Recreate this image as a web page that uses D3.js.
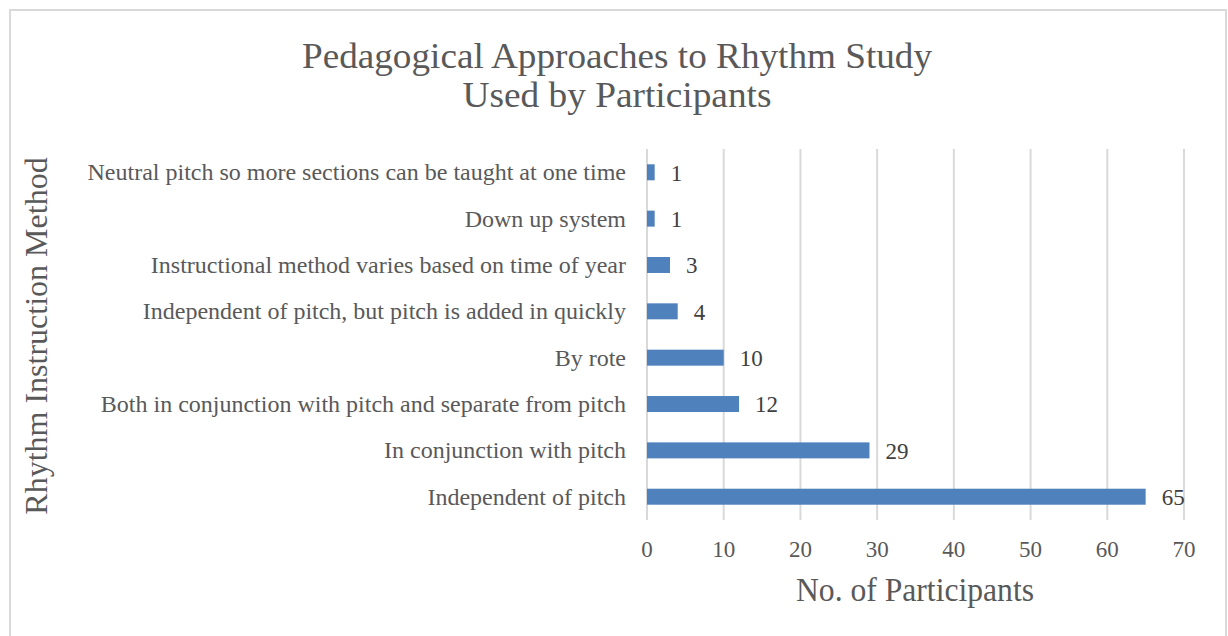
<!DOCTYPE html>
<html><head><meta charset="utf-8">
<script src="https://cdn.jsdelivr.net/npm/d3@7"></script>
<style>body{margin:0;background:#fff}svg{display:block}</style>
</head><body>
<script>
const categories = [
  "Neutral pitch so more sections can be taught at one time",
  "Down up system",
  "Instructional method varies based on time of year",
  "Independent of pitch, but pitch is added in quickly",
  "By rote",
  "Both in conjunction with pitch and separate from pitch",
  "In conjunction with pitch",
  "Independent of pitch"
];
const values = [1, 1, 3, 4, 10, 12, 29, 65];
const xTicks = [0, 10, 20, 30, 40, 50, 60, 70];
const titleLines = ["Pedagogical Approaches to Rhythm Study", "Used by Participants"];
const xTitle = "No. of Participants";
const yTitle = "Rhythm Instruction Method";

const W = 1228, H = 636;
const svg = d3.select("body").append("svg").attr("width", W).attr("height", H);
svg.append("rect").attr("x", 10).attr("y", 10).attr("width", 1216).attr("height", 640)
  .attr("fill", "#fff").attr("stroke", "#d9d9d9").attr("stroke-width", 2);

const x = d3.scaleLinear().domain([0, 70]).range([647, 1184]);
const y = d3.scaleBand().domain(categories).range([149, 520]).paddingInner(0.655).paddingOuter(0.33);

const serif = "'Liberation Serif', 'Times New Roman', serif";

// gridlines
svg.append("g").selectAll("line").data(xTicks).join("line")
  .attr("x1", d => x(d)).attr("x2", d => x(d)).attr("y1", 149).attr("y2", 520)
  .attr("stroke", "#d9d9d9").attr("stroke-width", 2);

// bars
svg.append("g").selectAll("rect").data(values).join("rect")
  .attr("x", x(0)).attr("y", (d, i) => y(categories[i]))
  .attr("width", d => x(d) - x(0)).attr("height", y.bandwidth())
  .attr("fill", "#4f81bd");

// data labels
svg.append("g").selectAll("text").data(values).join("text")
  .attr("x", d => x(d) + 16).attr("y", (d, i) => y(categories[i]) + y.bandwidth() / 2)
  .attr("dy", "0.36em").attr("font-family", serif).attr("font-size", 23).attr("fill", "#404040")
  .text(d => d);

// category labels
svg.append("g").selectAll("text").data(categories).join("text")
  .attr("x", 626).attr("y", d => y(d) + y.bandwidth() / 2).attr("dy", "0.33em")
  .attr("text-anchor", "end").attr("font-family", serif).attr("font-size", 24).attr("fill", "#595959")
  .text(d => d);

// x tick labels
svg.append("g").selectAll("text").data(xTicks).join("text")
  .attr("x", d => x(d)).attr("y", 557).attr("text-anchor", "middle")
  .attr("font-family", serif).attr("font-size", 23).attr("fill", "#595959")
  .text(d => d);

// titles
const tl = [630, 309];
svg.append("g").selectAll("text").data(titleLines).join("text")
  .attr("x", 617).attr("y", (d, i) => 68 + i * 39).attr("text-anchor", "middle")
  .attr("font-family", serif).attr("font-size", 35).attr("fill", "#595959")
  .attr("textLength", (d, i) => tl[i]).attr("lengthAdjust", "spacingAndGlyphs")
  .text(d => d);

svg.append("text").attr("x", 915).attr("y", 601).attr("text-anchor", "middle")
  .attr("font-family", serif).attr("font-size", 33).attr("fill", "#595959")
  .attr("textLength", 238).attr("lengthAdjust", "spacingAndGlyphs").text(xTitle);

svg.append("text").attr("transform", "translate(47,336) rotate(-90)").attr("text-anchor", "middle")
  .attr("font-family", serif).attr("font-size", 32).attr("fill", "#595959").text(yTitle);
</script>
</body></html>
